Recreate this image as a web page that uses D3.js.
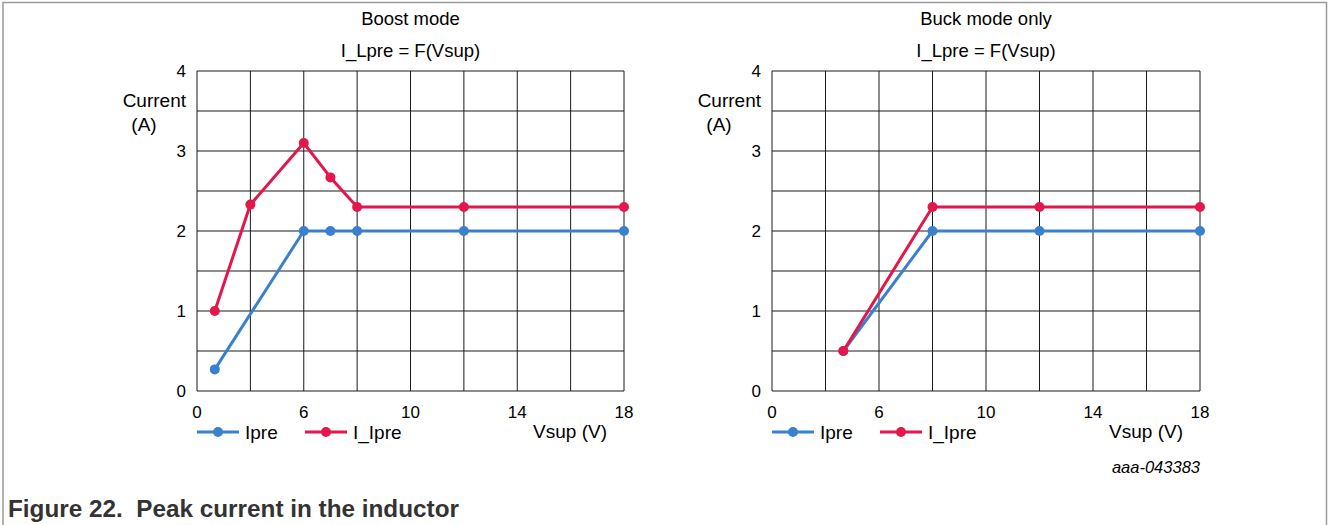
<!DOCTYPE html>
<html>
<head>
<meta charset="utf-8">
<script src="https://cdn.jsdelivr.net/npm/d3@7"></script>
<style>
  body { margin: 0; background: #fff; }
  svg { display: block; font-family: Arial, "Liberation Sans", sans-serif; }
</style>
</head>
<body>
<svg id="chart" width="1328" height="525"></svg>
<script>
// data
const xTickValues = [0, 6, 10, 14, 18];        // labelled x ticks
const xGridValues = [0, 3, 6, 8, 10, 12, 14, 16, 18]; // vertical grid lines
const yTickValues = [0, 1, 2, 3, 4];
const yGridValues = [0, 0.5, 1, 1.5, 2, 2.5, 3, 3.5, 4];

// boost mode
const boostIpreV = [1, 6, 7, 8, 12, 18];
const boostIpreA = [0.27, 2, 2, 2, 2, 2];
const boostILpreV = [1, 3, 6, 7, 8, 12, 18];
const boostILpreA = [1, 2.33, 3.1, 2.67, 2.3, 2.3, 2.3];

// buck mode only
const buckIpreV = [4, 8, 12, 18];
const buckIpreA = [0.5, 2, 2, 2];
const buckILpreV = [4, 8, 12, 18];
const buckILpreA = [0.5, 2.3, 2.3, 2.3];

const seriesNames = ["Ipre", "I_Ipre"];
const colors = ["#3a80cd", "#e2174b"];

const svg = d3.select("#chart");

// outer frame
svg.append("path")
  .attr("d", "M3,530 V2.5 H1326.5 V530")
  .attr("fill", "none")
  .attr("stroke", "#9a9a9a")
  .attr("stroke-width", 1.5);

function zip(xs, ys) { return xs.map((x, i) => ({x: x, y: ys[i]})); }

function panel(left, right, title, series) {
  const top = 71, bottom = 391;
  const w = right - left;
  // axis is not linear: 0..6 takes two grid cells, 6..18 the other six
  const x = d3.scaleLinear().domain([0, 6, 18]).range([left, left + w * 2 / 8, right]);
  const y = d3.scaleLinear().domain([0, 4]).range([bottom, top]);
  const g = svg.append("g");
  const cx = (left + right) / 2;

  g.append("text").attr("x", cx).attr("y", 25).attr("text-anchor", "middle")
    .attr("font-size", 18.5).text(title);
  g.append("text").attr("x", cx).attr("y", 57).attr("text-anchor", "middle")
    .attr("font-size", 18.5).text("I_Lpre = F(Vsup)");

  // grid
  g.selectAll(".vg").data(xGridValues).enter().append("line")
    .attr("x1", d => x(d)).attr("x2", d => x(d))
    .attr("y1", top).attr("y2", bottom)
    .attr("stroke", "#1a1a1a").attr("stroke-width", 1);
  g.selectAll(".hg").data(yGridValues).enter().append("line")
    .attr("x1", left).attr("x2", right)
    .attr("y1", d => y(d)).attr("y2", d => y(d))
    .attr("stroke", "#1a1a1a").attr("stroke-width", 1);

  // tick labels
  g.selectAll(".xl").data(xTickValues).enter().append("text")
    .attr("x", d => x(d)).attr("y", 418).attr("text-anchor", "middle")
    .attr("font-size", 17).text(d => d);
  g.selectAll(".yl").data(yTickValues).enter().append("text")
    .attr("x", left - 11).attr("y", d => y(d) + 6).attr("text-anchor", "end")
    .attr("font-size", 17).text(d => d);

  g.append("text").attr("x", left - 11).attr("y", 107).attr("text-anchor", "end")
    .attr("font-size", 19).text("Current");
  g.append("text").attr("x", left - 53).attr("y", 131).attr("text-anchor", "middle")
    .attr("font-size", 19).text("(A)");
  g.append("text").attr("x", right - 17).attr("y", 438).attr("text-anchor", "end")
    .attr("font-size", 19).text("Vsup (V)");

  const line = d3.line().x(d => x(d.x)).y(d => y(d.y));
  series.forEach((s, i) => {
    g.append("path").datum(s).attr("d", line)
      .attr("fill", "none").attr("stroke", colors[i]).attr("stroke-width", 3)
      .attr("stroke-linejoin", "round");
    g.selectAll(".pt" + i).data(s).enter().append("circle")
      .attr("cx", d => x(d.x)).attr("cy", d => y(d.y)).attr("r", 5)
      .attr("fill", colors[i]);
  });

  // legend
  seriesNames.forEach((name, i) => {
    const lx = left + i * 108;
    g.append("line").attr("x1", lx).attr("x2", lx + 42).attr("y1", 432).attr("y2", 432)
      .attr("stroke", colors[i]).attr("stroke-width", 3);
    g.append("circle").attr("cx", lx + 21).attr("cy", 432).attr("r", 5).attr("fill", colors[i]);
    g.append("text").attr("x", lx + 48).attr("y", 439).attr("font-size", 19).text(name);
  });
}

panel(197, 624, "Boost mode", [zip(boostIpreV, boostIpreA), zip(boostILpreV, boostILpreA)]);
panel(772, 1200, "Buck mode only", [zip(buckIpreV, buckIpreA), zip(buckILpreV, buckILpreA)]);

svg.append("text").attr("x", 1200).attr("y", 473).attr("text-anchor", "end")
  .attr("font-size", 16.5).attr("font-style", "italic").text("aaa-043383");
svg.append("text").attr("x", 8).attr("y", 517)
  .attr("font-size", 24.3).attr("font-weight", "bold").attr("fill", "#333")
  .style("white-space", "pre")
  .text("Figure 22.  Peak current in the inductor");
</script>
</body>
</html>
